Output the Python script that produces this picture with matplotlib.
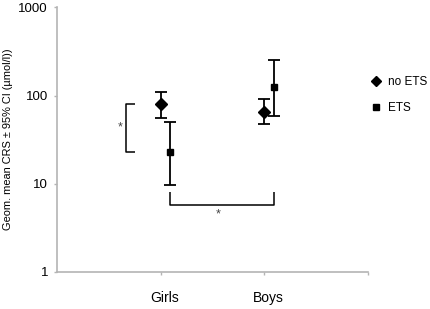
import numpy as np
import matplotlib.pyplot as plt
from matplotlib.lines import Line2D

# data
groups = ["Girls", "Boys"]
group_x = np.array([1, 2])
offset_ets = 0.09

no_ets_mean = np.array([80, 65])
no_ets_low = np.array([56, 47])
no_ets_high = np.array([111, 91])

ets_mean = np.array([23.2, 124])
ets_low = np.array([9.7, 58])
ets_high = np.array([50, 252])

plt.rcParams['font.family'] = ['Liberation Sans', 'DejaVu Sans']

fig = plt.figure(figsize=(4.3, 3.09), dpi=100)
ax = fig.add_axes([0.1326, 0.12, 0.7233, 0.856])

# no ETS diamonds
ax.errorbar(group_x, no_ets_mean,
            yerr=[no_ets_mean - no_ets_low, no_ets_high - no_ets_mean],
            fmt='D', color='black', markersize=6.5, capsize=4, elinewidth=1.3,
            capthick=1.3, ls='none')
# ETS squares
ax.errorbar(group_x + offset_ets, ets_mean,
            yerr=[ets_mean - ets_low, ets_high - ets_mean],
            fmt='s', color='black', markersize=5, capsize=4, elinewidth=1.3,
            capthick=1.3, ls='none')

ax.set_yscale('log')
ax.set_ylim(1, 1000)
ax.set_xlim(0, 3)
ax.set_yticks([1, 10, 100, 1000])
ax.set_yticklabels(["1", "10", "100", "1000"])
ax.yaxis.set_minor_locator(plt.NullLocator())
ax.set_xticks([1, 2, 3])
ax.set_xticklabels([])
for x, g in zip(group_x, groups):
    ax.text(x + 0.04, -0.1, g, transform=ax.get_xaxis_transform(),
            ha='center', va='center', fontsize=10)

for s in ['top', 'right']:
    ax.spines[s].set_visible(False)
for s in ['left', 'bottom']:
    ax.spines[s].set_color('#b4b4b4')
    ax.spines[s].set_linewidth(1.2)
ax.tick_params(axis='both', colors='#b4b4b4', length=2.5, width=1, labelsize=9.5,
               labelcolor='black', pad=4)

ax.set_ylabel("Geom. mean CRS ± 95% CI (µmol/l))", fontsize=7.9)
ax.yaxis.set_label_coords(-0.142, 0.5)

# significance brackets
bk = dict(color='black', lw=1.1, solid_capstyle='butt')
ax.plot([0.75, 0.67, 0.67, 0.75], [no_ets_mean[0], no_ets_mean[0], ets_mean[0], ets_mean[0]], **bk)
ax.text(0.61, np.sqrt(no_ets_mean[0] * ets_mean[0]), "*", ha='center', va='center',
        fontsize=9, color='#444444')
ax.plot([1 + offset_ets, 1 + offset_ets, 2 + offset_ets, 2 + offset_ets], [8.0, 5.8, 5.8, 8.0], **bk)
ax.text(1.55, 4.5, "*", ha='center', va='center', fontsize=9, color='#444444')

handles = [Line2D([], [], marker='D', color='black', ls='none', markersize=5.5),
           Line2D([], [], marker='s', color='black', ls='none', markersize=5)]
fig.legend(handles, ["no ETS", "ETS"], loc='upper left', bbox_to_anchor=(0.8635, 0.754),
           frameon=False, fontsize=8.5, handlelength=0.8, handletextpad=0.6,
           labelspacing=1.2, borderaxespad=0, borderpad=0)

fig.savefig("out.png", dpi=100)
